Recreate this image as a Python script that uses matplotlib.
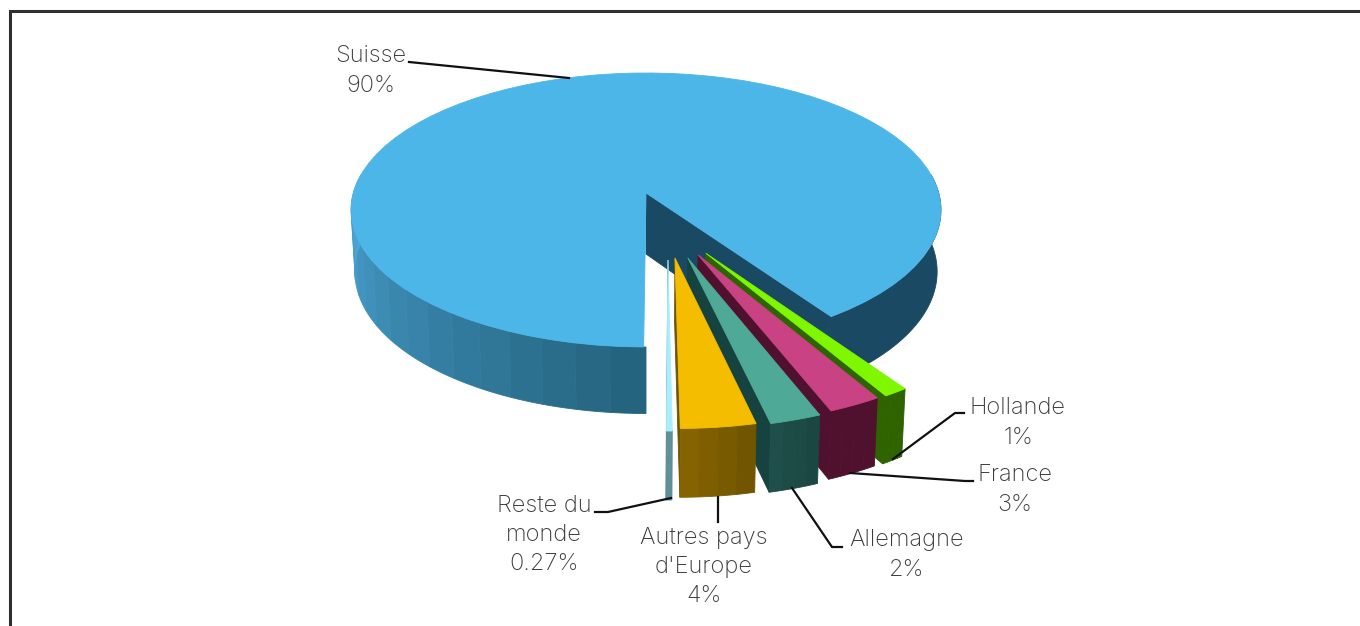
import numpy as np
import matplotlib
matplotlib.use("Agg")
import matplotlib.pyplot as plt
from matplotlib.patches import Polygon

# ---- data
categories = ["Reste du\nmonde", "Autres pays\nd'Europe", "Allemagne", "France", "Hollande"]
shares = [0.27, 3.5, 2.4, 2.5, 1.15]
share_labels = ["0.27%", "4%", "2%", "3%", "1%"]
main_category = "Suisse"
main_share = 90
main_label = "90%"

# ---- styles
top_colors = ["#A8EEFB", "#F5BD00", "#4FA997", "#C94283", "#7EF700"]
side_colors = ["#5E8F99", "#6E5300", "#16423F", "#4F112E", "#2E6300"]
wall_a = ["#5E8F99", "#856300", "#1F4F4A", "#4F112E", "#2E6300"]
wall_b = ["#5E8F99", "#715500", "#1A4742", "#4F112E", "#2E6300"]
explode_dir = [8.6, 11.6, 16.5, 21.2, 24.6]
explode_dist = [0.473, 0.464, 0.474, 0.465, 0.465]
main_top = "#4DB6E8"
main_dark = "#1A4A63"
start_angle = -0.8
main_end_trim = 0.4

CX, Y0, A, B, K = 646.0, 193.0, 292.7, 134.9, 0.124


def proj(u, v, z=0.0):
    p = 1.0 / (1.0 - K * v)
    x = CX + A * u * p * (1 - 0.013 * z)
    y = Y0 + B * v * p + z * (61 + 5.5 * v)
    return np.column_stack([np.atleast_1d(x), np.atleast_1d(y)])


def arc(a0, a1, r=1.0, ou=0.0, ov=0.0, n=80):
    t = np.radians(np.linspace(a0, a1, n))
    return ou + r * np.sin(t), ov + r * np.cos(t)


fig = plt.figure(figsize=(13.6, 6.26), dpi=100)
ax = fig.add_axes([0, 0, 1, 1])
ax.set_xlim(0, 1360)
ax.set_ylim(626, 0)
ax.axis("off")


def poly(pts, color, z):
    ax.add_patch(Polygon(pts, closed=True, fc=color, ec=color, lw=0.6, zorder=z))


def hex2rgb(h):
    return np.array(matplotlib.colors.to_rgb(h))


def wall(a0, a1, c0, c1, z, r=1.0, ou=0.0, ov=0.0, stripes=24):
    edges = np.linspace(a0, a1, stripes + 1)
    n = max(6, int(60 / stripes))
    for i in range(stripes):
        u, v = arc(edges[i], edges[i + 1], r, ou, ov, n)
        pts = np.vstack([proj(u, v), proj(u[::-1], v[::-1], 1)])
        f = i / max(stripes - 1, 1)
        col = hex2rgb(c0) * (1 - f) + hex2rgb(c1) * f
        poly(pts, col, z + i * 0.001)


# main slice
total = main_share + sum(shares)
deg = [360 * s / total for s in shares]
bounds = start_angle + np.concatenate([[0], np.cumsum(deg)])
main_start = bounds[-1]
main_end = start_angle + 360 + main_end_trim

# walls of the main slice
wall(main_start, 98, main_dark, main_dark, 1, stripes=1)
u, v = arc(main_start, main_start, n=2)
poly(np.vstack([proj(0, 0), proj(u[0], v[0]), proj(u[0], v[0], 1), proj(0, 0, 1)]), main_dark, 1.5)
wall(360, 262, "#25647F", "#4CA6D8", 1, stripes=16)
# top face
u, v = arc(main_start, main_end)
poly(np.vstack([proj(0, 0), proj(u, v)]), main_top, 2)

# exploded slices, right to left
for i in range(len(shares) - 1, -1, -1):
    ou = explode_dist[i] * np.sin(np.radians(explode_dir[i]))
    ov = explode_dist[i] * np.cos(np.radians(explode_dir[i]))
    a0, a1 = bounds[i], bounds[i + 1]
    z = 10 + (len(shares) - i) * 3
    left = arc(a0, a0, 0.98, ou, ov, 2)
    poly(np.vstack([proj(ou, ov), proj(left[0][0], left[1][0]),
                    proj(left[0][0], left[1][0], 1), proj(ou, ov, 1)]), side_colors[i], z)
    wall(a0, a1, wall_a[i], wall_b[i], z + 1, 0.98, ou, ov, stripes=4)
    u, v = arc(a0, a1, 0.98, ou, ov)
    poly(np.vstack([proj(ou, ov), proj(u, v)]), top_colors[i], z + 2)

# frame
ax.plot([10, 10, 1360], [626, 11, 11], color="#2f2f2f", lw=2.2, zorder=30,
        solid_joinstyle="miter")

# leader lines
leaders = [
    ([409, 569], [62, 78]),
    ([595, 608, 671], [512, 512, 498]),
    ([718, 718], [497, 522]),
    ([842, 832, 792], [547, 547, 488]),
    ([973, 965, 850], [481, 481, 473]),
    ([964, 955, 893], [413, 413, 459]),
]
for xs, ys in leaders:
    ax.plot(xs, ys, color="#111111", lw=1.6, zorder=31)

# labels
FONT = dict(family="Inter", weight="light", color="#3c3c3c", fontsize=17,
            ha="center", va="center", linespacing=1.42, zorder=32)
ax.text(371, 71, f"{main_category}\n{main_label}", **FONT)
anchors = [(544, 535), (704, 567), (907, 555), (1015, 490), (1018, 423)]
for (x, y), c, l in zip(anchors, categories, share_labels):
    ax.text(x, y, f"{c}\n{l}", **FONT)

fig.savefig("out.png", dpi=100)
